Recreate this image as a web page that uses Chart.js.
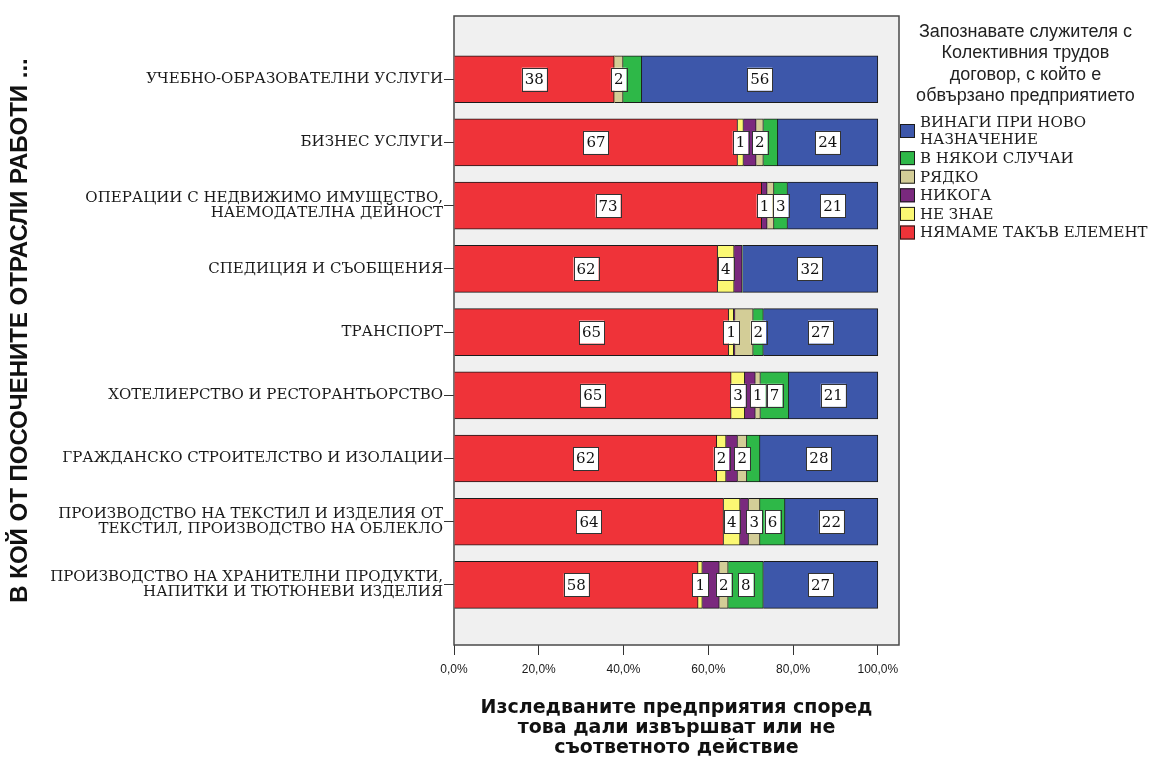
<!DOCTYPE html>
<html lang="bg">
<head>
<meta charset="utf-8">
<title>Колективен трудов договор по отрасли</title>
<script src="https://cdn.jsdelivr.net/npm/chart.js@4.4.1/dist/chart.umd.min.js"></script>
<style>
  html, body { margin: 0; padding: 0; background: #fff; }
  #wrap { width: 1152px; height: 760px; position: relative; }
</style>
</head>
<body>
<div id="wrap"><canvas id="kollChart"></canvas></div>
<script>
// отрасли, отгоре надолу
const sectors = [
  ["УЧЕБНО-ОБРАЗОВАТЕЛНИ УСЛУГИ"],
  ["БИЗНЕС УСЛУГИ"],
  ["ОПЕРАЦИИ С НЕДВИЖИМО ИМУЩЕСТВО,", "НАЕМОДАТЕЛНА ДЕЙНОСТ"],
  ["СПЕДИЦИЯ И СЪОБЩЕНИЯ"],
  ["ТРАНСПОРТ"],
  ["ХОТЕЛИЕРСТВО И РЕСТОРАНТЬОРСТВО"],
  ["ГРАЖДАНСКО СТРОИТЕЛСТВО И ИЗОЛАЦИИ"],
  ["ПРОИЗВОДСТВО НА ТЕКСТИЛ И ИЗДЕЛИЯ ОТ", "ТЕКСТИЛ, ПРОИЗВОДСТВО НА ОБЛЕКЛО"],
  ["ПРОИЗВОДСТВО НА ХРАНИТЕЛНИ ПРОДУКТИ,", "НАПИТКИ И ТЮТЮНЕВИ ИЗДЕЛИЯ"]
];

// дял на отговорите в %, по отрасли
const noElement = [37.8, 66.9, 72.6, 62.2, 64.8, 65.4, 62.0, 63.6, 57.6];
const dontKnow  = [0,    1.4,  0,    3.9,  1.2,  3.2,  2.2,  3.9,  1.0];
const never     = [0,    3.0,  1.3,  1.9,  0.3,  2.5,  2.7,  2.0,  4.0];
const rarely    = [2.1,  1.7,  1.6,  0,    4.3,  1.2,  2.2,  2.7,  2.1];
const sometimes = [4.4,  3.4,  3.2,  0,    2.4,  6.7,  3.1,  5.9,  8.3];
const always    = [55.7, 23.6, 21.3, 32.0, 27.0, 21.0, 27.8, 21.9, 27.0];

const xTicks = [0, 20, 40, 60, 80, 100];

const legendTitle = ["Запознавате служителя с", "Колективния трудов", "договор, с който е", "обвързано предприятието"];
const axisTitleY = "В КОЙ ОТ ПОСОЧЕНИТЕ ОТРАСЛИ РАБОТИ ...";
const axisTitleX = ["Изследваните предприятия според", "това дали извършват или не", "съответното действие"];

const SERIF = "'DejaVu Serif', serif";
const SANS = "'Liberation Sans', Arial, sans-serif";

function series(label, values, color) {
  return {
    label: label,
    data: values.map((v, i) => ({ x: v, y: i })),
    backgroundColor: color,
    borderColor: "#1b1b1b",
    borderWidth: ctx => (ctx.raw && ctx.raw.x > 0 ? 1 : 0),
    barThickness: 47
  };
}

// stack goes left to right, legend lists it the other way round
const datasets = [
  series(["НЯМАМЕ ТАКЪВ ЕЛЕМЕНТ"], noElement, "#ef3339"),
  series(["НЕ ЗНАЕ"], dontKnow, "#fbf873"),
  series(["НИКОГА"], never, "#7a297e"),
  series(["РЯДКО"], rarely, "#d3cd97"),
  series(["В НЯКОИ СЛУЧАИ"], sometimes, "#2eb848"),
  series(["ВИНАГИ ПРИ НОВО", "НАЗНАЧЕНИЕ"], always, "#3d57aa")
];

// grey plot panel with a dark frame
const plotFrame = {
  id: "plotFrame",
  beforeDatasetsDraw(chart) {
    const { ctx, chartArea: a } = chart;
    ctx.save();
    ctx.fillStyle = "#f0f0f0";
    ctx.fillRect(a.left, a.top, a.right - a.left, a.bottom - a.top);
    ctx.strokeStyle = "#4a4a4a";
    ctx.lineWidth = 1.5;
    ctx.strokeRect(a.left, a.top, a.right - a.left, a.bottom - a.top);
    ctx.restore();
  }
};

// white value boxes; a box that would overlap the previous one is left out
const valueBoxes = {
  id: "valueBoxes",
  afterDatasetsDraw(chart) {
    const ctx = chart.ctx;
    ctx.save();
    ctx.font = "15px " + SERIF;
    ctx.textAlign = "center";
    ctx.textBaseline = "middle";
    sectors.forEach((_, i) => {
      let lastRight = -Infinity;
      chart.data.datasets.forEach((ds, d) => {
        const v = ds.data[i].x;
        const txt = String(Math.round(v));
        if (Math.round(v) < 1) return;
        const bar = chart.getDatasetMeta(d).data[i];
        const cx = (bar.x + bar.base) / 2;
        const w = ctx.measureText(txt).width + 6;
        const h = 23;
        const left = cx - w / 2;
        if (left < lastRight) return;
        lastRight = left + w;
        ctx.fillStyle = "#ffffff";
        ctx.fillRect(left, bar.y - h / 2, w, h);
        ctx.strokeStyle = "#333333";
        ctx.lineWidth = 1;
        ctx.strokeRect(Math.round(left) + 0.5, Math.round(bar.y - h / 2) + 0.5, Math.round(w), h);
        ctx.fillStyle = "#111";
        ctx.fillText(txt, cx, bar.y + 1);
      });
    });
    ctx.restore();
  }
};

// legend to the right of the plot, title on top
const sideLegend = {
  id: "sideLegend",
  afterDraw(chart) {
    const ctx = chart.ctx;
    const fx = chart.chartArea.right;
    const cx = (fx + chart.width) / 2;
    ctx.save();
    ctx.fillStyle = "#222";
    ctx.textAlign = "center";
    ctx.textBaseline = "middle";
    ctx.font = "18px " + SANS;
    legendTitle.forEach((line, k) => ctx.fillText(line, cx, 32 + k * 21.5));

    ctx.textAlign = "left";
    ctx.font = "15px " + SERIF;
    let y = 122.5;
    chart.data.datasets.slice().reverse().forEach(ds => {
      const lines = ds.label;
      const mid = y + (lines.length - 1) * 17 / 2;
      ctx.fillStyle = ds.backgroundColor;
      ctx.fillRect(fx + 1, mid - 7, 15, 14);
      ctx.strokeStyle = "#1b1b1b";
      ctx.lineWidth = 1;
      ctx.strokeRect(fx + 1.5, mid - 6.5, 14, 13);
      ctx.fillStyle = "#1a1a1a";
      lines.forEach((t, k) => ctx.fillText(t, fx + 21, y + k * 17 + 1));
      y += (lines.length - 1) * 17 + 18.6;
    });
    ctx.restore();
  }
};

Chart.defaults.font.family = SANS;
Chart.defaults.color = "#222";

new Chart(document.getElementById("kollChart"), {
  type: "bar",
  data: { datasets: datasets },
  options: {
    indexAxis: "y",
    responsive: true,
    maintainAspectRatio: false,
    animation: false,
    devicePixelRatio: 1,
    layout: { padding: { top: 11, right: 253, left: 0, bottom: 0 } },
    plugins: {
      legend: { display: false },
      tooltip: { enabled: false }
    },
    scales: {
      x: {
        type: "linear",
        stacked: true,
        min: 0,
        max: 105,
        afterBuildTicks: scale => { scale.ticks = xTicks.map(v => ({ value: v })); },
        afterFit: scale => { scale.height = 115; },
        border: { display: false },
        grid: { drawOnChartArea: false, tickLength: 10, color: "#333" },
        ticks: {
          autoSkip: false,
          maxRotation: 0,
          padding: 7,
          font: { size: 12 },
          color: "#1a1a1a",
          callback: v => v.toFixed(1).replace(".", ",") + "%"
        },
        title: {
          display: true,
          text: axisTitleX,
          color: "#111",
          font: { family: "'DejaVu Sans', sans-serif", size: 19, weight: "bold", lineHeight: 1.05 },
          padding: { top: 0, bottom: 2 }
        }
      },
      y: {
        type: "linear",
        stacked: true,
        reverse: true,
        offset: false,
        min: -1,
        max: 8.95,
        afterBuildTicks: scale => { scale.ticks = sectors.map((_, i) => ({ value: i })); },
        afterFit: scale => { scale.width = 454; },
        border: { display: false },
        grid: { drawOnChartArea: false, offset: false, tickLength: 10, color: "#333" },
        ticks: {
          autoSkip: false,
          padding: 1,
          font: { family: SERIF, size: 15, lineHeight: 1.0 },
          color: "#1a1a1a",
          callback: v => sectors[v]
        },
        title: {
          display: true,
          text: axisTitleY,
          color: "#111",
          font: { size: 24, weight: "bold", lineHeight: 1.2 },
          padding: { top: 6, bottom: 0 }
        }
      }
    }
  },
  plugins: [plotFrame, valueBoxes, sideLegend]
});
</script>
</body>
</html>
